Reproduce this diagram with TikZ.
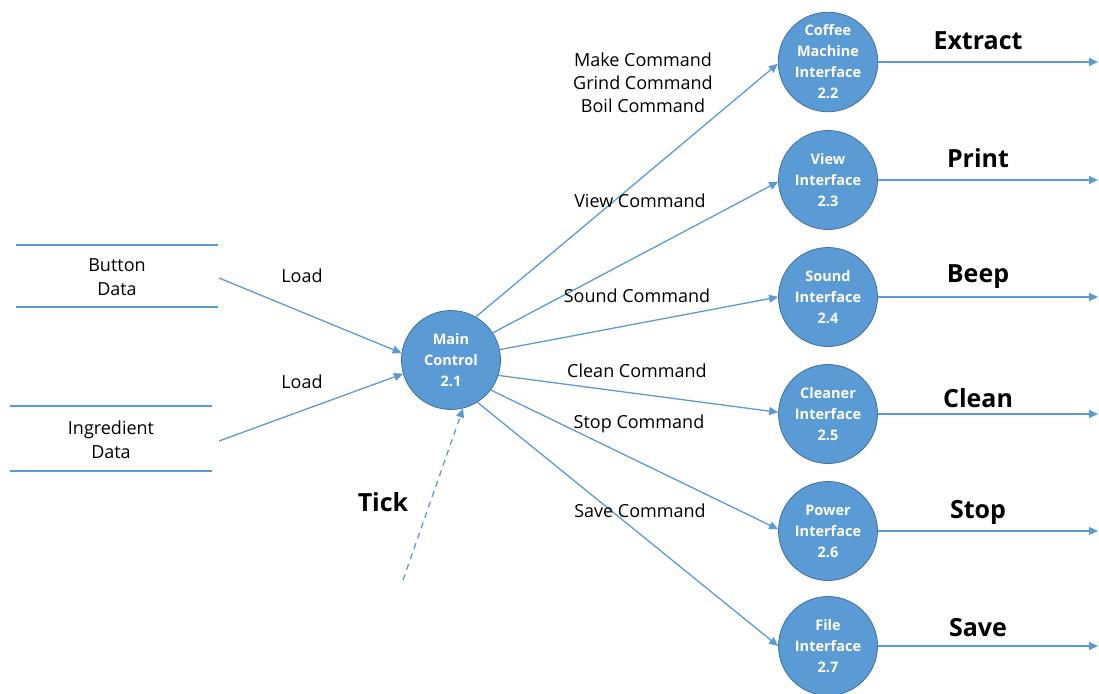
\documentclass[tikz,border=0pt]{standalone}
\usepackage{fontspec}
\setmainfont{Open Sans}
\usetikzlibrary{arrows.meta}
\definecolor{fillblue}{HTML}{5B9BD5}
\definecolor{edgeblue}{HTML}{41719C}
\definecolor{lineblue}{HTML}{5B9BD5}
\tikzset{
  proc/.style={circle, fill=fillblue, draw=edgeblue, line width=0.8pt, minimum size=99pt, inner sep=0pt,
    text=white, font=\fontsize{14.5}{21}\selectfont\bfseries, align=center},
  flow/.style={draw=lineblue, line width=1.3pt, -{Triangle[length=9pt,width=8pt]}},
  storeline/.style={draw=lineblue, line width=2.8pt},
  cmd/.style={font=\fontsize{18}{23}\selectfont, align=center, text=black},
  outlbl/.style={font=\fontsize{25}{28}\selectfont\bfseries, text=black},
  storelbl/.style={font=\fontsize{18}{24}\selectfont, align=center, text=black}
}
\begin{document}
\begin{tikzpicture}[x=1pt,y=-1pt]
\useasboundingbox (0,0) rectangle (1099,693);
% data stores
\coordinate (b1l) at (16,245); \coordinate (b1r) at (218,245);
\coordinate (b2l) at (16,307); \coordinate (b2r) at (218,307);
\draw[storeline] (b1l) -- (b1r);
\draw[storeline] (b2l) -- (b2r);
\node[storelbl] (button) at (117,277) {Button\\Data};
\coordinate (i1l) at (10,406); \coordinate (i1r) at (212,406);
\coordinate (i2l) at (10,471); \coordinate (i2r) at (212,471);
\draw[storeline] (i1l) -- (i1r);
\draw[storeline] (i2l) -- (i2r);
\node[storelbl] (ingr) at (111,440) {Ingredient\\Data};
% processes
\node[proc] (main) at (451,360) {Main\\Control\\2.1};
\node[proc] (p22) at (828,62) {Coffee\\Machine\\Interface\\2.2};
\node[proc] (p23) at (828,180) {View\\Interface\\2.3};
\node[proc] (p24) at (828,297) {Sound\\Interface\\2.4};
\node[proc] (p25) at (828,414) {Cleaner\\Interface\\2.5};
\node[proc] (p26) at (828,531) {Power\\Interface\\2.6};
\node[proc] (p27) at (828,646) {File\\Interface\\2.7};
% inputs
\coordinate (bout) at (219,278);
\coordinate (iout) at (219,441);
\draw[flow] (bout) -- (main.172);
\draw[flow] (iout) -- (main.196);
\node[cmd] (load1) at (302,276) {Load};
\node[cmd] (load2) at (302,382) {Load};
% tick
\coordinate (tick0) at (403,580);
\draw[flow, dashed, dash pattern=on 6pt off 5pt] (tick0) -- (main.284);
\node[outlbl] (tick) at (383,502) {Tick};
% command flows
\draw[flow] (main.60) -- (p22.182);
\draw[flow] (main.33) -- (p23.182);
\draw[flow] (main.12) -- (p24.180);
\draw[flow] (main.-18) -- (p25.178);
\draw[flow] (main.-37) -- (p26.178);
\draw[flow] (main.-58) -- (p27.180);
\node[cmd] (c22) at (643,83) {Make Command\\Grind Command\\Boil Command};
\node[cmd] (c23) at (640,201) {View Command};
\node[cmd] (c24) at (637,296) {Sound Command};
\node[cmd] (c25) at (637,371) {Clean Command};
\node[cmd] (c26) at (639,424) {Stop Command};
\node[cmd] (c27) at (640,511) {Save Command};
% outputs
\foreach \p/\y/\t/\ly in {p22/62/Extract/41, p23/180/Print/158, p24/297/Beep/277, p25/414/Clean/398, p26/531/Stop/512, p27/646/Save/628}{
  \coordinate (e\p) at (1098,\y);
  \draw[flow] (\p.east) -- (e\p);
  \node[outlbl] (l\p) at (978,\ly) {\t};
}
\end{tikzpicture}
\end{document}
